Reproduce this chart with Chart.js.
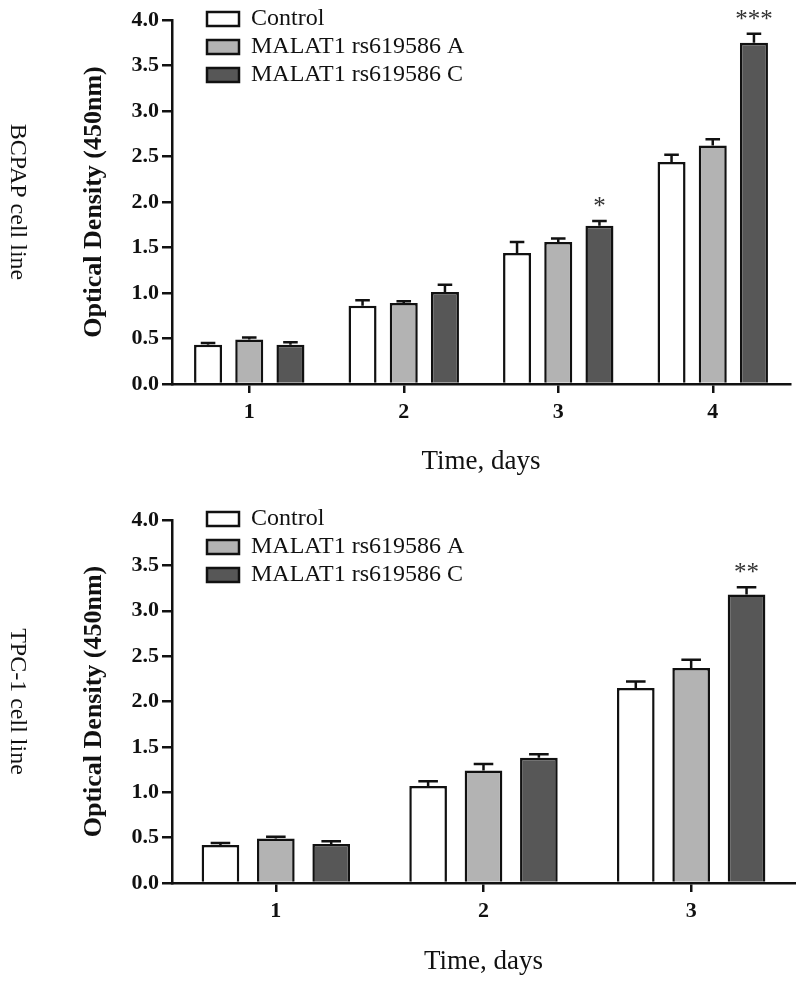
<!DOCTYPE html>
<html>
<head>
<meta charset="utf-8">
<script src="https://cdn.jsdelivr.net/npm/chart.js@4.4.1/dist/chart.umd.min.js"></script>
<style>
    body { margin: 0; background: #fff; }
    canvas { display: block; }
</style>
</head>
<body>
<canvas id="bcpap" width="796" height="499"></canvas>
<canvas id="tpc" width="796" height="484"></canvas>
<script>
// values
const seriesNames = ['Control', 'MALAT1 rs619586 A', 'MALAT1 rs619586 C'];
const seriesColors = ['#ffffff', '#b3b3b3', '#575757'];
const yTicks = [0, 0.5, 1, 1.5, 2, 2.5, 3, 3.5, 4];

const bcpapDays = ['1', '2', '3', '4'];
const bcpapControl = [0.43, 0.86, 1.44, 2.44];
const bcpapA = [0.49, 0.89, 1.56, 2.62];
const bcpapC = [0.43, 1.01, 1.74, 3.75];
const bcpapControlErr = [0.02, 0.06, 0.12, 0.08];
const bcpapAErr = [0.02, 0.02, 0.04, 0.07];
const bcpapCErr = [0.03, 0.08, 0.05, 0.10];
const bcpapCStars = ['', '', '*', '***'];

const tpcDays = ['1', '2', '3'];
const tpcControl = [0.42, 1.07, 2.15];
const tpcA = [0.49, 1.24, 2.37];
const tpcC = [0.43, 1.38, 3.18];
const tpcControlErr = [0.02, 0.05, 0.07];
const tpcAErr = [0.02, 0.07, 0.09];
const tpcCErr = [0.03, 0.04, 0.08];
const tpcCStars = ['', '', '**'];

const serif = '"Liberation Serif", "Times New Roman", serif';
const ink = '#111';

// upper error bars + significance stars
const errorBars = {
    id: 'errorBars',
    afterDatasetsDraw(chart) {
        const ctx = chart.ctx;
        const yScale = chart.scales.y;
        chart.data.datasets.forEach((ds, i) => {
            chart.getDatasetMeta(i).data.forEach((bar, j) => {
                const top = yScale.getPixelForValue(ds.data[j] + ds.errors[j]);
                const half = bar.width * 0.26;
                ctx.save();
                ctx.strokeStyle = ink;
                ctx.lineWidth = 2.5;
                ctx.beginPath();
                ctx.moveTo(bar.x, bar.y);
                ctx.lineTo(bar.x, top);
                ctx.moveTo(bar.x - half, top);
                ctx.lineTo(bar.x + half, top);
                ctx.stroke();
                if (ds.stars && ds.stars[j]) {
                    ctx.fillStyle = '#333';
                    ctx.font = '25px ' + serif;
                    ctx.textAlign = 'center';
                    ctx.textBaseline = 'alphabetic';
                    ctx.fillText(ds.stars[j], bar.x, top - 7);
                }
                ctx.restore();
            });
        });
    }
};

// cell line label on the far left, reading top to bottom
const sideLabel = {
    id: 'sideLabel',
    afterDraw(chart, args, opts) {
        const ctx = chart.ctx;
        const area = chart.chartArea;
        ctx.save();
        ctx.translate(opts.x, (area.top + area.bottom) / 2);
        ctx.rotate(Math.PI / 2);
        ctx.fillStyle = ink;
        ctx.font = '24px ' + serif;
        ctx.textAlign = 'center';
        ctx.textBaseline = 'middle';
        ctx.fillText(opts.text, 0, 0);
        ctx.restore();
    }
};

// put the legend in the top left corner of the plot
const legendSpot = {
    id: 'legendSpot',
    afterLayout(chart) {
        const lg = chart.legend;
        const area = chart.chartArea;
        const w = lg.width, h = lg.height;
        lg.left = area.left + 31;
        lg.top = area.top - 17;
        lg.right = lg.left + w;
        lg.bottom = lg.top + h;
    }
};

function makeChart(id, days, values, errors, stars, label, xHeight, titlePad, rightPad, topPad) {
    const ctx = document.getElementById(id).getContext('2d');
    return new Chart(ctx, {
        type: 'bar',
        data: {
            labels: days,
            datasets: values.map((v, i) => ({
                label: seriesNames[i],
                data: v,
                errors: errors[i],
                stars: i === 2 ? stars : null,
                backgroundColor: seriesColors[i],
                borderColor: ink,
                borderWidth: 2.5,
                barPercentage: 0.68,
                categoryPercentage: 0.8
            }))
        },
        options: {
            responsive: false,
            animation: false,
            layout: { padding: { left: 32, right: rightPad, top: topPad, bottom: 0 } },
            plugins: {
                legend: {
                    position: 'chartArea',
                    align: 'start',
                    labels: {
                        boxWidth: 32,
                        boxHeight: 14,
                        padding: 4,
                        color: ink,
                        textAlign: 'left',
                        font: { family: serif, size: 24 }
                    }
                },
                tooltip: { enabled: false },
                sideLabel: { text: label, x: 17 }
            },
            scales: {
                x: {
                    afterFit(scale) { scale.height = xHeight; },
                    grid: {
                        offset: false,
                        drawOnChartArea: false,
                        color: ink,
                        lineWidth: 2.5,
                        tickLength: 9
                    },
                    border: { color: ink, width: 2.5 },
                    ticks: {
                        color: ink,
                        padding: 6,
                        font: { family: serif, size: 22, weight: 'bold' }
                    },
                    title: {
                        display: true,
                        text: 'Time, days',
                        color: ink,
                        padding: { top: 0, bottom: titlePad },
                        font: { family: serif, size: 27 }
                    }
                },
                y: {
                    min: 0,
                    max: 4,
                    afterFit(scale) { scale.width = 140; },
                    afterBuildTicks(scale) { scale.ticks = yTicks.map(v => ({ value: v })); },
                    grid: {
                        drawOnChartArea: false,
                        color: ink,
                        lineWidth: 2.5,
                        tickLength: 10
                    },
                    border: { color: ink, width: 2.5 },
                    ticks: {
                        color: ink,
                        padding: 3,
                        font: { family: serif, size: 22, weight: 'bold' },
                        callback: v => Number(v).toFixed(1)
                    },
                    title: {
                        display: true,
                        text: 'Optical Density (450nm)',
                        color: ink,
                        padding: { top: 47, bottom: 0 },
                        font: { family: serif, size: 26, weight: 'bold' }
                    }
                }
            }
        },
        plugins: [errorBars, sideLabel, legendSpot]
    });
}

document.addEventListener('DOMContentLoaded', () => {
    makeChart('bcpap', bcpapDays,
        [bcpapControl, bcpapA, bcpapC],
        [bcpapControlErr, bcpapAErr, bcpapCErr],
        bcpapCStars, 'BCPAP cell line', 115, 21, 6, 20);
    makeChart('tpc', tpcDays,
        [tpcControl, tpcA, tpcC],
        [tpcControlErr, tpcAErr, tpcCErr],
        tpcCStars, 'TPC-1 cell line', 100, 5, 1, 21);
});
</script>
</body>
</html>
